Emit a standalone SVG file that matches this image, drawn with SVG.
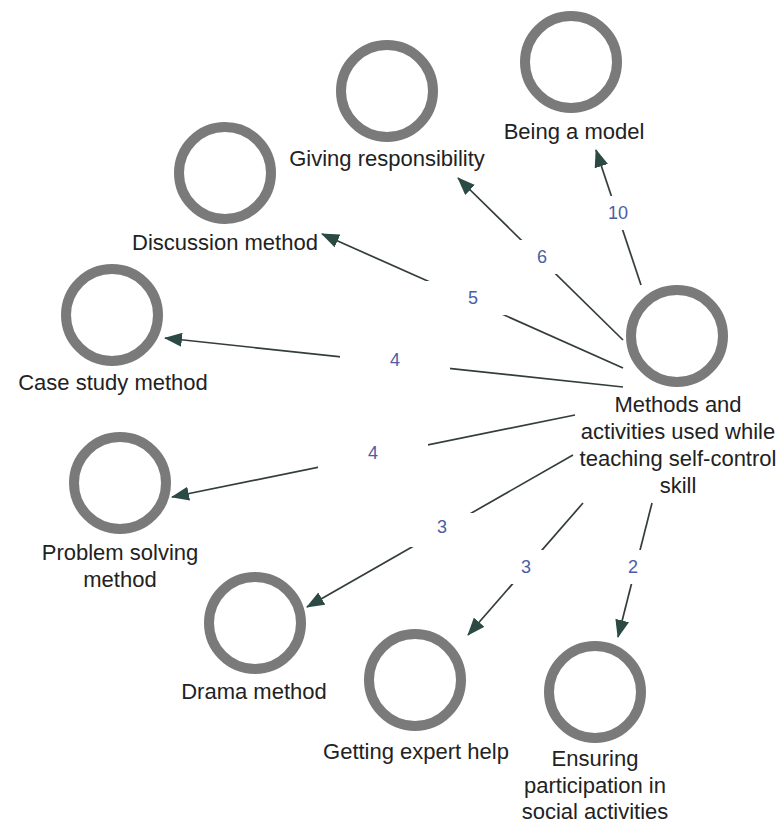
<svg xmlns="http://www.w3.org/2000/svg" width="780" height="825" viewBox="0 0 780 825">
<style>
.node circle{fill:#ffffff;stroke:#7a7a7a;stroke-width:10}
.node text{font-family:"Liberation Sans",Arial,sans-serif;font-size:22px;fill:#222222;text-anchor:middle}
.edge{fill:none;stroke:#333d3b;stroke-width:1.7;marker-end:url(#arrow)}
.elabel rect{fill:#ffffff}
.elabel text{font-family:"Liberation Sans",Arial,sans-serif;font-size:18px;fill:#4a5da6;text-anchor:middle}
</style>
<defs>
<marker id="arrow" viewBox="0 0 18 14" refX="17" refY="7" markerUnits="userSpaceOnUse" markerWidth="18" markerHeight="14" orient="auto">
<path d="M0,0 L18,7 L0,14 z" fill="#2b4a44"/>
</marker>
</defs>
<rect width="780" height="825" fill="#ffffff"/>
<g id="connectors">
<path class="edge" d="M641,285 L596,150"/>
<path class="edge" d="M623,340 L458,178"/>
<path class="edge" d="M623,368 L322,234"/>
<path class="edge" d="M623,387 L165,338"/>
<path class="edge" d="M575,415 L172,497"/>
<path class="edge" d="M573,455 L307,607"/>
<path class="edge" d="M583,503 L468,635"/>
<path class="edge" d="M652,503 L618,637"/>
<g class="elabel"><rect x="563" y="196" width="110" height="34"/><text x="618" y="219">10</text></g>
<g class="elabel"><rect x="487" y="240" width="110" height="34"/><text x="542" y="263">6</text></g>
<g class="elabel"><rect x="418" y="281" width="110" height="34"/><text x="473" y="304">5</text></g>
<g class="elabel"><rect x="340" y="343" width="110" height="34"/><text x="395" y="366">4</text></g>
<g class="elabel"><rect x="318" y="436" width="110" height="34"/><text x="373" y="459">4</text></g>
<g class="elabel"><rect x="387" y="513" width="110" height="34"/><text x="442" y="533">3</text></g>
<g class="elabel"><rect x="472" y="550" width="106" height="34"/><text x="526" y="573">3</text></g>
<g class="elabel"><rect x="580" y="550" width="106" height="34"/><text x="633" y="573">2</text></g>
</g>
<g id="node-center" class="node">
<circle cx="677" cy="336" r="46"/>
<text x="678" y="412">Methods and</text>
<text x="678" y="439">activities used while</text>
<text x="678" y="466">teaching self-control</text>
<text x="678" y="493">skill</text>
</g>
<g id="node-model" class="node"><circle cx="571" cy="62" r="46"/><text x="574" y="139">Being a model</text></g>
<g id="node-responsibility" class="node"><circle cx="387" cy="91" r="46"/><text x="387" y="166">Giving responsibility</text></g>
<g id="node-discussion" class="node"><circle cx="225" cy="173" r="46"/><text x="225" y="250">Discussion method</text></g>
<g id="node-casestudy" class="node"><circle cx="112" cy="315" r="46"/><text x="113" y="390">Case study method</text></g>
<g id="node-problem" class="node"><circle cx="120" cy="483" r="46"/><text x="120" y="560">Problem solving</text><text x="120" y="587">method</text></g>
<g id="node-drama" class="node"><circle cx="255" cy="623" r="46"/><text x="254" y="699">Drama method</text></g>
<g id="node-expert" class="node"><circle cx="415" cy="680" r="46"/><text x="416" y="759">Getting expert help</text></g>
<g id="node-social" class="node"><circle cx="595" cy="692" r="46"/><text x="595" y="766">Ensuring</text><text x="595" y="793">participation in</text><text x="595" y="819">social activities</text></g>
</svg>
